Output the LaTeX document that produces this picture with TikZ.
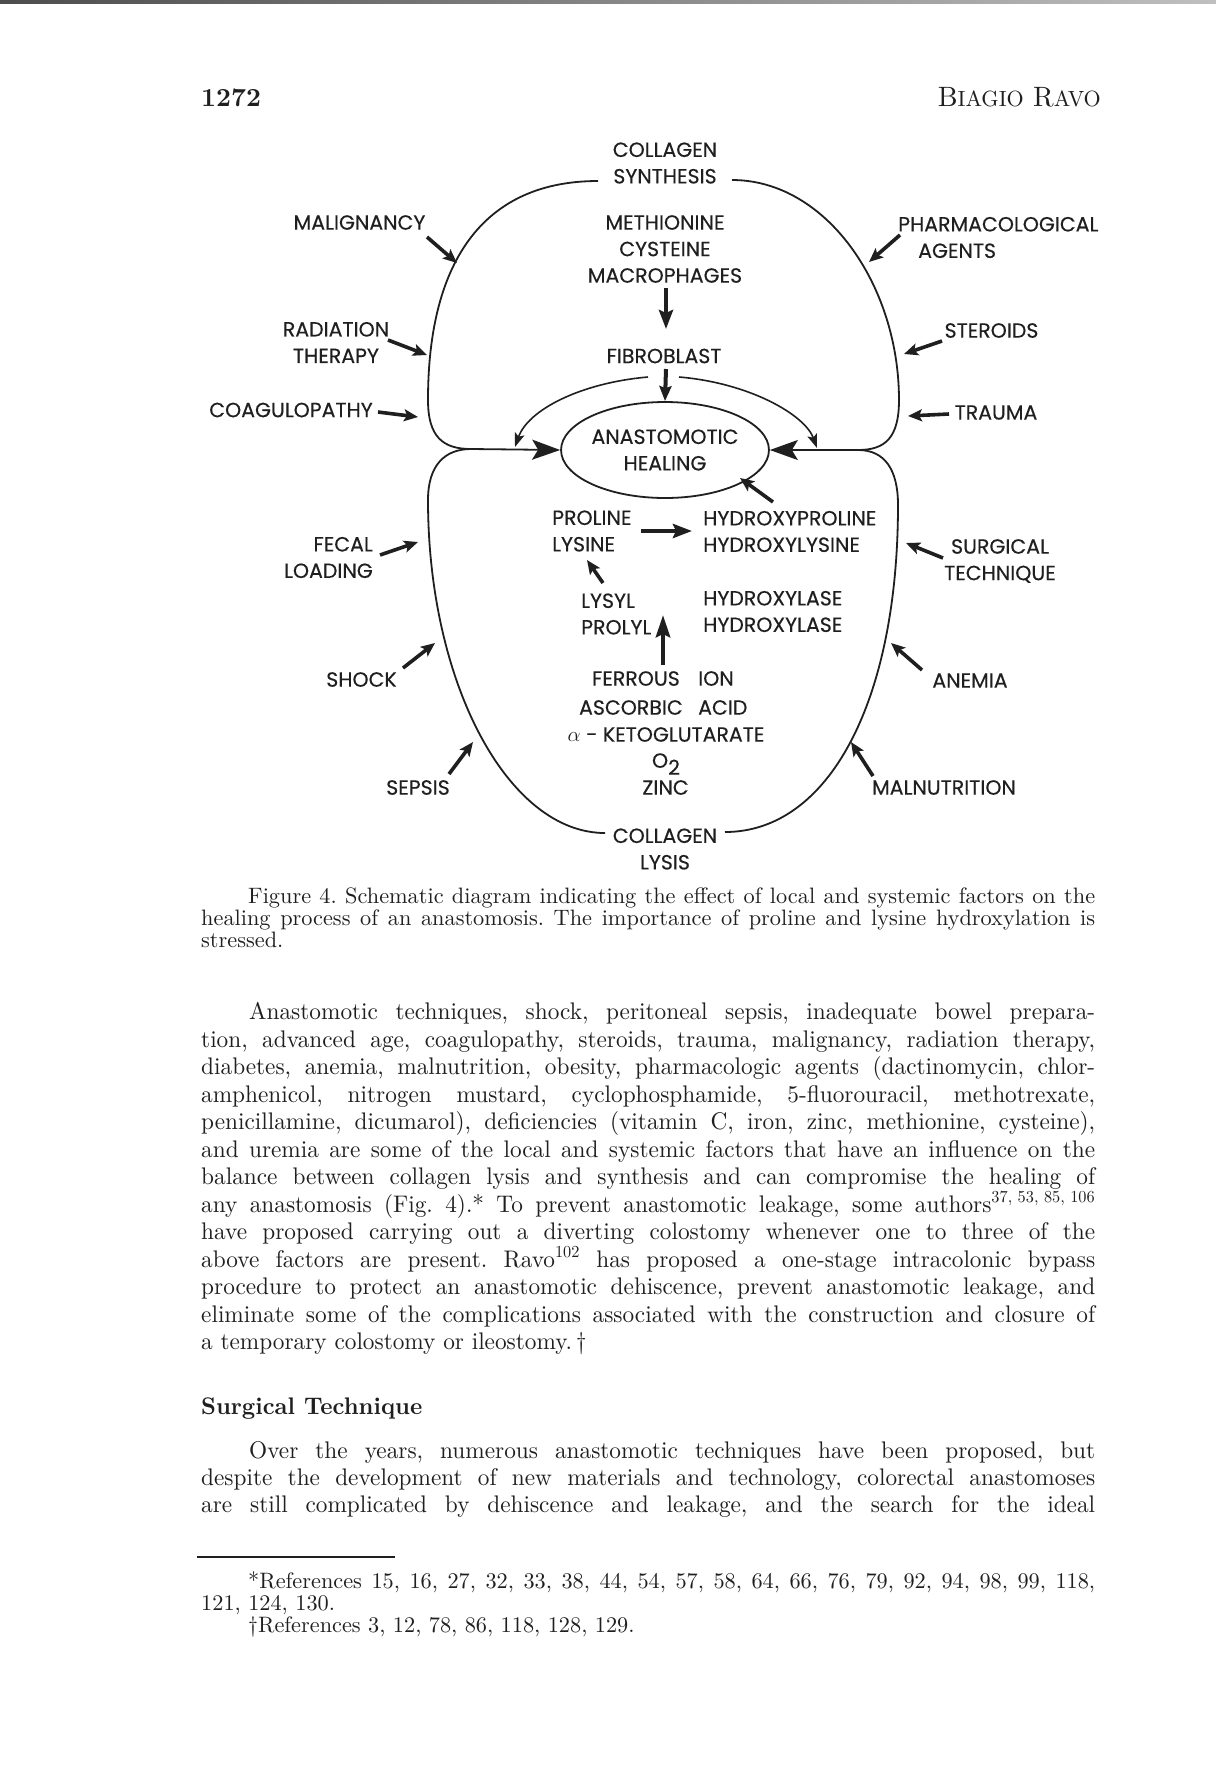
\documentclass[tikz,border=0pt]{standalone}
\usepackage{fontspec}
\usetikzlibrary{arrows.meta,shapes.geometric}
\newfontfamily\dgf{Poppins}[FakeBold=0.3]
\newfontfamily\bodyf{lmroman10-regular}[Extension=.otf,FakeStretch=0.97,BoldFont=lmroman10-bold]
\newfontfamily\captf{lmroman10-regular}[Extension=.otf]
\newfontfamily\headf{lmroman10-regular}[Extension=.otf,BoldFont=lmroman10-bold]
\definecolor{ink}{gray}{0.12}
\newcommand\jline[1]{\makebox[894pt][s]{#1}}
\frenchspacing
\tikzset{
  lbl/.style={font=\dgf\fontsize{20.5}{26.5}\selectfont, inner sep=0pt, text=ink},
  loopline/.style={line width=1.8pt, draw=ink},
  farrow/.style={line width=3.6pt, draw=ink, -{Stealth[length=14pt,width=12pt,inset=3pt]}},
  tarrow/.style={line width=4.6pt, draw=ink, -{Stealth[length=19pt,width=14pt,inset=3pt]}},
  bigarrow/.style={line width=1.8pt, draw=ink, -{Stealth[length=28pt,width=20pt,inset=6pt]}},
  thinarrow/.style={line width=1.6pt, draw=ink, -{Stealth[length=14pt,width=10pt,inset=3pt]}},
  body/.style={font=\bodyf\frenchspacing\fontsize{24}{27.5}\selectfont, inner sep=0pt, anchor=base west, text=ink},
  capt/.style={font=\captf\frenchspacing\fontsize{22.3}{22.3}\selectfont, inner sep=0pt, anchor=base west, text=ink},
}
\begin{document}
\begin{tikzpicture}[x=1pt,y=-1pt]
\fill[white] (0,0) rectangle (1216,1792);
\useasboundingbox (0,0) rectangle (1216,1792);
\shade[left color=black!70, right color=black!25] (0,0) rectangle (1216,3);

% header
\node[anchor=base west, inner sep=0pt, text=ink, font=\headf\bfseries\fontsize{26}{26}\selectfont] (pageno) at (201,106) {1272};
\node[anchor=base east, inner sep=0pt, text=ink, font=\headf\fontsize{28}{28}\selectfont] (author) at (1101,106)
  {B{\fontsize{22}{22}\selectfont IAGIO} R{\fontsize{22}{22}\selectfont AVO}};

% ---------------- diagram ----------------
\node[lbl, align=center] (synth) at (665,163) {COLLAGEN\\SYNTHESIS};
\node[lbl, align=center] (meth) at (665,249) {METHIONINE\\CYSTEINE\\MACROPHAGES};
\node[lbl] (fib) at (664,356) {FIBROBLAST};
\node[lbl, align=center, ellipse, draw=ink, line width=1.8pt, minimum width=166pt, minimum height=96pt] (heal) at (665,450) {ANASTOMOTIC\\HEALING};
\node[lbl, align=center] (lysis) at (665,849) {COLLAGEN\\LYSIS};
\node[lbl, align=left, anchor=west] (pl) at (552,531) {PROLINE\\LYSINE};
\node[lbl, align=left, anchor=west] (hp) at (703,531.5) {HYDROXYPROLINE\\HYDROXYLYSINE};
\node[lbl, align=left, anchor=west] (lp) at (581,614) {LYSYL\\PROLYL};
\node[lbl, align=left, anchor=west] (hyd) at (703,611.5) {HYDROXYLASE\\HYDROXYLASE};
\node[lbl, anchor=east] (fer) at (680,678.5) {FERROUS};
\node[lbl, anchor=west] (ion) at (698,678.5) {ION};
\node[lbl, anchor=east] (asc) at (683,707.5) {ASCORBIC};
\node[lbl, anchor=west] (acid) at (698,707.5) {ACID};
\node[lbl] (keto) at (666,734.5) {$\alpha$ - KETOGLUTARATE};
\node[lbl] (oxy) at (666,764) {O\raisebox{-7pt}{2}};
\node[lbl] (zinc) at (665.5,787.5) {ZINC};

% factor labels
\node[lbl] (malig) at (359.5,222.5) {MALIGNANCY};
\node[lbl, align=center] (radiat) at (336,342.5) {RADIATION\\THERAPY};
\node[lbl] (coag) at (291,410) {COAGULOPATHY};
\node[lbl, align=right, anchor=east] (fecal) at (373,557.5) {FECAL\\LOADING};
\node[lbl] (shock) at (361.5,679.5) {SHOCK};
\node[lbl] (sepsis) at (418,787.5) {SEPSIS};
\node[lbl, align=left, anchor=west] (pharm) at (898,237.5) {PHARMACOLOGICAL\\\hspace*{20pt}AGENTS};
\node[lbl] (steroids) at (991.5,330.5) {STEROIDS};
\node[lbl] (trauma) at (996,412.5) {TRAUMA};
\node[lbl, align=center] (surg) at (1000,561) {SURGICAL\\TECHNIQUE};
\node[lbl] (anemia) at (970,680.5) {ANEMIA};
\node[lbl] (maln) at (944,787.5) {MALNUTRITION};

% loop end points
\coordinate (synL) at (598,181);
\coordinate (synR) at (732,180);
\coordinate (lysL) at (605,833);
\coordinate (lysR) at (725,832);
\coordinate (JL) at (471,449);
\coordinate (JR) at (858,450);

% loops
\draw[loopline] (synL) .. controls (486,181) and (428,258) .. (428,400)
  .. controls (428,437) and (443,449) .. (JL);
\draw[loopline] (synR) .. controls (826,180) and (899,285) .. (899,400)
  .. controls (899,438) and (885,450) .. (JR);
\draw[loopline] (JL) .. controls (445,449) and (428,465) .. (428,500)
  .. controls (428,683) and (508,833) .. (lysL);
\draw[loopline] (JR) .. controls (885,450) and (898,470) .. (898,505)
  .. controls (898,701) and (829,832) .. (lysR);

% into healing
\draw[bigarrow] (JL) -- (heal.west);
\draw[bigarrow] (JR) -- (heal.east);

% fibroblast arcs
\coordinate (fibL) at (648,377);
\coordinate (fibR) at (679,377);
\coordinate (fibLt) at (515,447);
\coordinate (fibRt) at (817,448);
\draw[thinarrow] (fibL) .. controls (580,383) and (528,410) .. (fibLt);
\draw[thinarrow] (fibR) .. controls (750,383) and (805,415) .. (fibRt);

% inner arrows
\coordinate (m1) at (666,288); \coordinate (m2) at (666,329);
\draw[tarrow] (m1) -- (m2);
\coordinate (f1) at (666,369);
\draw[line width=4pt, draw=ink, -{Stealth[length=15pt,width=12pt,inset=2pt]}] (f1) -- (heal.north);
\coordinate (h1) at (773,502); \coordinate (h2) at (740,478);
\draw[farrow] (h1) -- (h2);
\coordinate (p1) at (641,531); \coordinate (p2) at (692,531);
\draw[tarrow] (p1) -- (p2);
\coordinate (l1) at (603,583); \coordinate (l2) at (587,560);
\draw[farrow] (l1) -- (l2);
\coordinate (u1) at (663,665); \coordinate (u2) at (663,615);
\draw[line width=4.6pt, draw=ink, -{Stealth[length=22pt,width=14pt,inset=3pt]}] (u1) -- (u2);

% factor arrows
\coordinate (a1s) at (427,237); \coordinate (a1t) at (457,263);
\coordinate (a2s) at (388,340); \coordinate (a2t) at (427,355);
\coordinate (a3s) at (378,412); \coordinate (a3t) at (418,417);
\coordinate (a4s) at (380,555); \coordinate (a4t) at (418,542);
\coordinate (a5s) at (403,668); \coordinate (a5t) at (435,643);
\coordinate (a6s) at (449,774); \coordinate (a6t) at (473,742);
\coordinate (b1s) at (900,235); \coordinate (b1t) at (869,262);
\coordinate (b2s) at (942,341); \coordinate (b2t) at (904,354);
\coordinate (b3s) at (949,414); \coordinate (b3t) at (908,416);
\coordinate (b4s) at (943,558); \coordinate (b4t) at (906,543);
\coordinate (b5s) at (922,670); \coordinate (b5t) at (891,643);
\coordinate (b6s) at (873,776); \coordinate (b6t) at (851,742);
\foreach \p in {a1,a2,a3,a4,a5,a6,b1,b2,b3,b4,b5,b6}
  \draw[farrow] (\p s) -- (\p t);

% ---------------- caption ----------------
\node[capt] (c1) at (201,903) {\jline{\hspace*{47pt}Figure 4. Schematic diagram indicating the effect of local and systemic factors on the}};
\node[capt] (c2) at (201,925) {\jline{healing process of an anastomosis. The importance of proline and lysine hydroxylation is}};
\node[capt] (c3) at (201,947) {stressed.};

% ---------------- body ----------------
\node[body] (t1) at (201,1019.5) {\jline{\hspace*{48pt}Anastomotic techniques, shock, peritoneal sepsis, inadequate bowel prepara-}};
\node[body] (t2) at (201,1047) {\jline{tion, advanced age, coagulopathy, steroids, trauma, malignancy, radiation therapy,}};
\node[body] (t3) at (201,1074.5) {\jline{diabetes, anemia, malnutrition, obesity, pharmacologic agents (dactinomycin, chlor-}};
\node[body] (t4) at (201,1102) {\jline{amphenicol, nitrogen mustard, cyclophosphamide, 5-fluorouracil, methotrexate,}};
\node[body] (t5) at (201,1129.5) {\jline{penicillamine, dicumarol), deficiencies (vitamin C, iron, zinc, methionine, cysteine),}};
\node[body] (t6) at (201,1157) {\jline{and uremia are some of the local and systemic factors that have an influence on the}};
\node[body] (t7) at (201,1184.5) {\jline{balance between collagen lysis and synthesis and can compromise the healing of}};
\node[body] (t8) at (201,1212) {\jline{any anastomosis (Fig. 4).* To prevent anastomotic leakage, some authors\textsuperscript{37, 53, 85, 106}}};
\node[body] (t9) at (201,1239.5) {\jline{have proposed carrying out a diverting colostomy whenever one to three of the}};
\node[body] (t10) at (201,1267) {\jline{above factors are present. Ravo\textsuperscript{102} has proposed a one-stage intracolonic bypass}};
\node[body] (t11) at (201,1294.5) {\jline{procedure to protect an anastomotic dehiscence, prevent anastomotic leakage, and}};
\node[body] (t12) at (201,1322) {\jline{eliminate some of the complications associated with the construction and closure of}};
\node[body] (t13) at (201,1349.5) {a temporary colostomy or ileostomy.\,\textdagger};

\node[body, font=\bodyf\bfseries\fontsize{24}{27.5}\selectfont] (sec) at (201,1414) {Surgical Technique};

\node[body] (s1) at (201,1458) {\jline{\hspace*{48pt}Over the years, numerous anastomotic techniques have been proposed, but}};
\node[body] (s2) at (201,1485) {\jline{despite the development of new materials and technology, colorectal anastomoses}};
\node[body] (s3) at (201,1512) {\jline{are still complicated by dehiscence and leakage, and the search for the ideal}};

% ---------------- footnotes ----------------
\draw[ink, line width=1.3pt] (197,1557) -- (395,1557);
\node[capt] (n1) at (201,1588) {\jline{\hspace*{47pt}*References 15, 16, 27, 32, 33, 38, 44, 54, 57, 58, 64, 66, 76, 79, 92, 94, 98, 99, 118,}};
\node[capt] (n2) at (201,1610) {121, 124, 130.};
\node[capt] (n3) at (201,1632) {\hspace*{47pt}\textdagger References 3, 12, 78, 86, 118, 128, 129.};
\end{tikzpicture}
\end{document}
